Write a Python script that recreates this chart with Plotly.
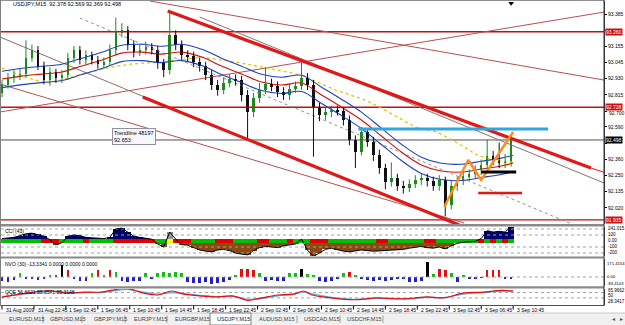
import plotly.graph_objects as go

# ---------------- data ----------------
title_text = "USDJPY,M15  92.378 92.569 92.369 92.498"

candle_bars = list(range(0, 256, 3))          # M15 bar index of each (3-bar) candle
first_open = 92.83
closes = [92.885, 92.934, 92.955, 92.962, 93.075, 93.131, 93.019, 92.920, 92.977, 92.934,
          92.955, 93.075, 93.131, 93.061, 93.096, 93.061, 93.033, 93.047, 93.131, 93.258,
          93.272, 93.167, 93.117, 93.131, 93.153, 93.131, 93.040, 92.991, 93.237, 93.167,
          93.096, 93.089, 93.047, 93.019, 92.955, 92.885, 92.850, 92.899, 92.927, 92.920,
          92.815, 92.695, 92.793, 92.850, 92.892, 92.878, 92.836, 92.815, 92.857, 92.878,
          92.934, 92.885, 92.723, 92.674, 92.695, 92.709, 92.702, 92.639, 92.498, 92.413,
          92.554, 92.484, 92.392, 92.300, 92.202, 92.230, 92.174, 92.160, 92.188, 92.216,
          92.230, 92.209, 92.174, 92.216, 92.040, 92.174, 92.209, 92.244, 92.258, 92.286,
          92.322, 92.385, 92.357, 92.336, 92.350, 92.498]
highs = [92.92, 92.97, 92.99, 93.00, 93.20, 93.17, 93.16, 93.05, 93.01, 93.00,
         92.99, 93.11, 93.16, 93.16, 93.13, 93.12, 93.09, 93.08, 93.17, 93.36,
         93.32, 93.30, 93.20, 93.17, 93.19, 93.18, 93.16, 93.07, 93.40, 93.27,
         93.20, 93.13, 93.12, 93.08, 93.05, 92.99, 92.92, 92.94, 92.96, 92.96,
         92.95, 92.85, 92.83, 92.90, 93.01, 92.93, 92.91, 92.87, 92.89, 92.91,
         93.04, 92.97, 92.92, 92.76, 92.73, 92.74, 92.74, 92.73, 92.67, 92.53,
         92.59, 92.58, 92.52, 92.43, 92.33, 92.34, 92.26, 92.21, 92.22, 92.25,
         92.26, 92.26, 92.24, 92.25, 92.24, 92.21, 92.24, 92.28, 92.29, 92.32,
         92.36, 92.50, 92.42, 92.48, 92.40, 92.53]
lows = [92.80, 92.86, 92.90, 92.92, 92.94, 93.05, 92.99, 92.89, 92.88, 92.90,
        92.90, 92.92, 93.04, 93.03, 93.03, 93.03, 93.00, 93.00, 93.02, 93.10,
        93.22, 93.13, 93.08, 93.09, 93.10, 93.10, 93.00, 92.94, 92.96, 93.13,
        93.06, 93.05, 93.01, 92.98, 92.92, 92.85, 92.81, 92.82, 92.87, 92.88,
        92.77, 92.50, 92.66, 92.76, 92.82, 92.84, 92.80, 92.78, 92.78, 92.83,
        92.85, 92.85, 92.38, 92.63, 92.64, 92.66, 92.67, 92.60, 92.46, 92.30,
        92.39, 92.45, 92.35, 92.26, 92.15, 92.17, 92.14, 92.12, 92.13, 92.16,
        92.18, 92.17, 92.14, 92.14, 91.96, 92.01, 92.14, 92.18, 92.21, 92.23,
        92.25, 92.29, 92.32, 92.30, 92.30, 92.31]

ma_bars = [0, 10, 20, 30, 40, 50, 60, 70, 80, 90, 100, 110, 120, 130, 140,
           150, 160, 170, 180, 190, 200, 210, 220, 230, 240, 250, 256]
ma_mid = [92.927, 92.948, 92.962, 92.977, 93.019, 93.061, 93.110, 93.117, 93.103, 93.117,
          93.082, 93.019, 92.962, 92.906, 92.885, 92.899, 92.815, 92.730, 92.639, 92.526,
          92.413, 92.322, 92.279, 92.272, 92.293, 92.315, 92.336]
ma_upper = [92.982, 93.003, 93.017, 93.032, 93.074, 93.116, 93.165, 93.172, 93.158, 93.172,
            93.137, 93.074, 93.017, 92.961, 92.940, 92.954, 92.870, 92.785, 92.694, 92.581,
            92.468, 92.377, 92.334, 92.327, 92.348, 92.370, 92.391]
ma_lower = [92.867, 92.888, 92.902, 92.917, 92.959, 93.001, 93.050, 93.057, 93.043, 93.057,
            93.022, 92.959, 92.902, 92.846, 92.825, 92.839, 92.755, 92.670, 92.579, 92.466,
            92.353, 92.262, 92.219, 92.212, 92.233, 92.255, 92.276]
ma_long_bars = [0, 10, 22, 30, 40, 55, 65, 80, 100, 117, 133, 150, 167, 182, 189,
                207, 218, 228, 238, 246, 256]
ma_long = [93.005, 92.948, 92.899, 92.920, 92.962, 93.012, 93.033, 93.047, 93.082, 93.047,
           93.005, 92.955, 92.850, 92.779, 92.730, 92.589, 92.554, 92.477, 92.392, 92.357, 92.336]

# trend lines: (bar0, price0, bar1, price1)
channel_top = [(83, 93.406, 295, 92.300), (295, 92.300, 301.5, 92.270)]
channel_bottom = [(70.5, 92.800, 229, 91.899)]
thin_red_lines = [(74, 93.477, 301.5, 92.920), (-1, 92.695, 301.5, 93.399), (-1, 92.892, 231.5, 91.913)]
thin_gray_lines = [(99, 93.364, 301.5, 92.195), (-1, 93.223, 71.5, 92.800)]
dotted_lines = [(39, 93.357, 286.5, 91.899)]
cyan_level = (178.5, 273.5, 92.575)
zigzag_bars = [221.5, 233.5, 240, 256]
zigzag_prices = [92.026, 92.357, 92.216, 92.554]
black_level = (240, 257.5, 92.272)
red_short_level = (238.5, 260.5, 92.124)

h_levels = [93.260, 92.728, 91.935]
h_labels = ["93.260", "92.728", "91.935"]
bid_price = 92.498

price_ticks = [93.385, 93.270, 93.155, 93.045, 92.930, 92.815, 92.700, 92.590,
               92.475, 92.360, 92.250, 92.135, 92.020, 91.905]
hidden_price_ticks = [93.270, 92.475, 91.905]   # covered by the level labels
shifted_price_tick = 92.700                     # partly under the 92.728 label, drawn a little lower

time_tick_bars = [0, 16, 32, 48, 64, 80, 96, 112, 128, 144, 160, 176, 192, 208, 224, 240, 256]
time_tick_labels = ["31 Aug 2009", "31 Aug 22:45", "1 Sep 02:45", "1 Sep 06:45", "1 Sep 10:45",
                    "1 Sep 14:45", "1 Sep 18:45", "1 Sep 22:45", "2 Sep 02:45", "2 Sep 06:45",
                    "2 Sep 10:45", "2 Sep 14:45", "2 Sep 18:45", "2 Sep 22:45", "3 Sep 02:45",
                    "3 Sep 06:45", "3 Sep 10:45"]

cci = [40, 50, 60, 90, 120, 130, 110, 80, 20, -60,
       -30, 80, 100, 90, 60, 50, 50, 40, 60, 200,
       215, 150, 80, 60, 50, 30, -50, -100, 150, 30,
       -60, -70, -110, -150, -170, -180, -150, -140, -160, -200,
       -220, -230, -160, -110, -90, -100, -110, -80, -60, -50,
       30, -150, -255, -200, -140, -120, -150, -170, -180, -170,
       -150, -160, -170, -165, -160, -150, -145, -140, -120, -100,
       -90, -110, -120, -100, -130, -80, -40, -20, -10, -5,
       40, 170, 150, 160, 150, 240]
cci_strip = ("ggggggg" + "rrr" + "gggg" + "r" + "gggg" + "rrrrrrr" + "gg" + "y" + "rrr" + "gggg"
             + "rrr" + "gggg" + "rr" + "ggg" + "r" + "ggg" + "rrr" + "gggggggg" + "rr" + "gggggg"
             + "rr" + "ggggggg" + "rgrgrg")
cci_level_lines = [200, 100, -100, -200]
cci_labels = [(212, "241.015"), (100, "100"), (0, "0.00"), (-100, "-100"), (-185, "-200"), (-262, "-257.861")]

nvo = [-45, -55, -40, 50, -30, -25, -40, -20, 20, 30,
       145, 85, -20, -50, -45, 55, 85, 30, 80, 60,
       -50, -55, -50, -45, 55, -20, 50, 65, 45, 60,
       55, -60, -70, -75, -60, -80, -70, -60, -40, 30,
       100, 100, 85, 50, -45, -40, -50, -45, 50, 45,
       95, 40, 30, -50, -55, -45, -30, 50, 65, 20,
       -20, -35, -45, -40, -50, -35, -30, -20, -55, -60,
       -45, 180, 40, 100, 90, 50, -60, 30, -15, -20,
       -10, 85, 85, 80, -20, -15]
nvo_kind = ("bbb" + "g" + "bbbb" + "g" + "r" + "k" + "r" + "bbb" + "grgrg" + "bbbb" + "g" + "b"
            + "ggggg" + "bbbbbbbb" + "g" + "rrr" + "g" + "bbbb" + "gg" + "k" + "gg" + "bbbb"
            + "grg" + "bbbbbbbbbbb" + "k" + "g" + "rr" + "g" + "b" + "g" + "bbb" + "rrr" + "bb")
nvo_labels = [(165, "171.4154"), (10, "0.00"), (-83.4, "-83.4143")]

qqe_bars = [0, 16, 25, 33, 41, 50, 58, 63, 71, 78, 85, 91, 100, 108, 116, 123,
            130, 138, 146, 151, 155, 165, 176, 188, 198, 205, 213, 221, 231, 241, 250, 256]
qqe_fast = [43, 62, 66, 58, 62, 62, 73, 75, 58, 51, 66, 54, 47, 44, 47, 31,
            40, 51, 54, 66, 52, 40, 33, 40, 36, 38, 44, 40, 58, 62, 68, 66]
qqe_slow = [45, 58, 64, 61, 60, 61, 68, 72, 62, 54, 60, 56, 49, 45, 46, 35,
            38, 48, 53, 62, 55, 42, 35, 38, 37, 37, 42, 41, 54, 60, 65, 65]
qqe_labels = [(68.5, "65.9662"), (50, "50"), (28.34, "28.3417")]
qqe_levels = [60, 40]

tabs = ["EURUSD,M15", "GBPUSD,M15", "GBPJPY,M15", "EURJPY,M15", "EURGBP,M15",
        "USDJPY,M15", "AUDUSD,M15", "USDCAD,M15", "USDCHF,M15"]
active_tab = "USDJPY,M15"

# ---------------- layout helpers ----------------
W, H = 625, 325
FONT = "Liberation Sans"
def yp(p):
    return 1 - p / H
def xp(p):
    return p / W

XDOM = [xp(1), xp(604)]
XR = [-0.5, 301.5]

fig = go.Figure()

def seg_trace(segs, color, width, dash="solid", xa="x", ya="y"):
    xs, ys = [], []
    for b0, p0, b1, p1 in segs:
        xs += [b0, b1, None]
        ys += [p0, p1, None]
    fig.add_trace(go.Scatter(x=xs, y=ys, mode="lines", xaxis=xa, yaxis=ya,
                             line=dict(color=color, width=width, dash=dash),
                             hoverinfo="skip", showlegend=False))

# ---- main panel ----
opens = [first_open] + closes[:-1]
seg_trace([(XR[0], v, XR[1], v) for v in h_levels], "#c01010", 1.4)
seg_trace([(XR[0], bid_price, XR[1], bid_price)], "#505050", 1)
seg_trace(thin_red_lines, "#b85050", 1)
seg_trace(thin_gray_lines, "#8a7070", 1)
seg_trace(dotted_lines, "#909090", 1, "dot")
fig.add_trace(go.Scatter(x=ma_long_bars, y=ma_long, mode="lines", line=dict(color="#e0c800", width=1.3, dash="dot"),
                         hoverinfo="skip", showlegend=False))
fig.add_trace(go.Scatter(x=ma_bars, y=ma_upper, mode="lines", line=dict(color="#2040c0", width=1.1, shape="spline"),
                         hoverinfo="skip", showlegend=False))
fig.add_trace(go.Scatter(x=ma_bars, y=ma_lower, mode="lines", line=dict(color="#2040c0", width=1.1, shape="spline"),
                         hoverinfo="skip", showlegend=False))
fig.add_trace(go.Scatter(x=ma_bars, y=ma_mid, mode="lines", line=dict(color="#d01010", width=1.1, shape="spline"),
                         hoverinfo="skip", showlegend=False))

for up, col in ((True, "#1f8a1f"), (False, "#101010")):
    wx, wy, bx, bb, bh = [], [], [], [], []
    for b, o, h, l, c in zip(candle_bars, opens, highs, lows, closes):
        if (c >= o) != up:
            continue
        wx += [b, b, None]
        wy += [l, h, None]
        bx.append(b)
        bb.append(min(o, c))
        bh.append(max(abs(c - o), 0.004))
    fig.add_trace(go.Scatter(x=wx, y=wy, mode="lines", line=dict(color=col, width=1),
                             hoverinfo="skip", showlegend=False))
    fig.add_trace(go.Bar(x=bx, y=bh, base=bb, width=1.25, marker=dict(color=col, line=dict(width=0)),
                         hoverinfo="skip", showlegend=False))

seg_trace(channel_bottom, "#e01818", 3.2)
seg_trace(channel_top[:1], "#e01818", 3.2)
seg_trace(channel_top[1:], "#e01818", 1)
seg_trace([(cyan_level[0], cyan_level[2], cyan_level[1], cyan_level[2])], "#30a8dc", 3)
fig.add_trace(go.Scatter(x=zigzag_bars, y=zigzag_prices, mode="lines", line=dict(color="#ff8c1a", width=2.4),
                         hoverinfo="skip", showlegend=False))
seg_trace([(black_level[0], black_level[2], black_level[1], black_level[2])], "#000000", 3)
seg_trace([(red_short_level[0], red_short_level[2], red_short_level[1], red_short_level[2])], "#e01818", 2.5)
fig.add_trace(go.Scatter(x=[candle_bars[-1]], y=[93.462], mode="markers",
                         marker=dict(symbol="triangle-down", size=5, color="black"),
                         hoverinfo="skip", showlegend=False))

# ---- CCI panel ----
cci_col = {"g": "#00c000", "r": "#e00000", "y": "#ffff00"}
hist_cols = []
for v, s in zip(cci, cci_strip):
    if s == "y":
        hist_cols.append("#909090")
    elif v >= 0:
        hist_cols.append("#00006e")
    else:
        hist_cols.append("#8b4a14")
for lv in cci_level_lines:
    seg_trace([(XR[0], lv, XR[1], lv)], "#a0a0a0", 1, "dot", "x2", "y2")
fig.add_trace(go.Bar(x=candle_bars, y=cci, width=3, xaxis="x2", yaxis="y2",
                     marker=dict(color=hist_cols, line=dict(width=0)), hoverinfo="skip", showlegend=False))
fig.add_trace(go.Bar(x=candle_bars, y=[70] * len(candle_bars), base=-40, width=3, xaxis="x2", yaxis="y2",
                     marker=dict(color=[cci_col[s] for s in cci_strip], line=dict(width=0)),
                     hoverinfo="skip", showlegend=False))
fig.add_trace(go.Scatter(x=candle_bars, y=cci, mode="lines", xaxis="x2", yaxis="y2",
                         line=dict(color="#000000", width=1), hoverinfo="skip", showlegend=False))

# ---- NVO panel ----
nvo_col = {"b": "#2020d0", "g": "#10c010", "r": "#e01010", "k": "#000000"}
seg_trace([(XR[0], 0, XR[1], 0)], "#a0a0a0", 1, "dot", "x3", "y3")
fig.add_trace(go.Bar(x=candle_bars, y=nvo, width=1.3, xaxis="x3", yaxis="y3",
                     marker=dict(color=[nvo_col[k] for k in nvo_kind], line=dict(width=0)),
                     hoverinfo="skip", showlegend=False))

# ---- QQE panel ----
for lv in qqe_levels:
    seg_trace([(XR[0], lv, XR[1], lv)], "#a0a0a0", 1, "dot", "x4", "y4")
fig.add_trace(go.Scatter(x=qqe_bars, y=qqe_slow, mode="lines", xaxis="x4", yaxis="y4",
                         line=dict(color="#60a8e8", width=1.2, shape="spline"), hoverinfo="skip", showlegend=False))
fig.add_trace(go.Scatter(x=qqe_bars, y=qqe_fast, mode="lines", xaxis="x4", yaxis="y4",
                         line=dict(color="#e01010", width=1.2, shape="spline"), hoverinfo="skip", showlegend=False))

# ---------------- axes ----------------
hidden_x = dict(domain=XDOM, range=XR, showticklabels=False, showgrid=False, zeroline=False,
                showline=False, ticks="", fixedrange=True)
tickfont = dict(family=FONT, size=5, color="#000000")
def yax(dom, rng, **kw):
    d = dict(domain=[yp(dom[0]), yp(dom[1])], range=rng, side="right", showgrid=False, zeroline=False,
             showline=True, linecolor="#404040", linewidth=1, fixedrange=True, showticklabels=False, ticks="")
    d.update(kw)
    return d

fig.update_layout(
    width=W, height=H, margin=dict(l=0, r=0, t=0, b=0),
    paper_bgcolor="white", plot_bgcolor="white",
    barmode="overlay", bargap=0, showlegend=False,
    font=dict(family=FONT, size=5, color="black"),
    xaxis=dict(hidden_x, anchor="y"),
    xaxis2=dict(hidden_x, anchor="y2", matches="x"),
    xaxis3=dict(hidden_x, anchor="y3", matches="x"),
    xaxis4=dict(hidden_x, anchor="y4", matches="x"),
    yaxis=yax((224, 1), [91.906, 93.477], anchor="x", tickvals=price_ticks,
              ticktext=["" if (v in hidden_price_ticks or v == shifted_price_tick) else "%.3f" % v
                        for v in price_ticks],
              showticklabels=True, ticks="outside", ticklen=2, tickcolor="#000000", tickfont=tickfont),
    yaxis2=yax((256, 227), [-250, 233], anchor="x2"),
    yaxis3=yax((286, 259), [-110, 220], anchor="x3"),
    yaxis4=yax((305, 289), [13.3, 73.5], anchor="x4"),
)

shapes = []
def prect(x0, y0, x1, y1, fill, line=None, lw=0):
    shapes.append(dict(type="rect", xref="paper", yref="paper", x0=xp(x0), x1=xp(x1), y0=yp(y1), y1=yp(y0),
                       fillcolor=fill, line=dict(color=line or fill, width=lw), layer="above"))
def pline(x0, y0, x1, y1, color, w=1):
    shapes.append(dict(type="line", xref="paper", yref="paper", x0=xp(x0), x1=xp(x1), y0=yp(y0), y1=yp(y1),
                       line=dict(color=color, width=w), layer="above"))

pline(0, 0.5, 604, 0.5, "#909090", 1)
prect(0, 224, 604, 226.6, "#8a8a8a")
prect(0, 256.4, 604, 258.6, "#8a8a8a")
prect(0, 286.2, 604, 288.4, "#8a8a8a")
pline(0, 305.5, 604, 305.5, "#505050", 1)
pline(0.5, 0, 0.5, 306, "#808080", 1)
pline(604, 0, 604, 306, "#303030", 1)
prect(0, 313, 625, 325, "#f0f0f0")
pline(0, 313, 625, 313, "#c8c8c8", 1)
tab_x = [7, 48, 92, 132, 173, 215, 257, 302, 345]
tab_sep = [43, 82, 125, 167, 297, 340, 383]
prect(210, 313, 251, 325, "#ffffff", "#808080", 1)
for sx in tab_sep:
    pline(sx, 315.5, sx, 323, "#a0a0a0", 1)
for b in time_tick_bars:
    shapes.append(dict(type="line", xref="x4", yref="paper", x0=b, x1=b, y0=yp(306), y1=yp(309.5),
                       line=dict(color="#000000", width=1)))
fig.update_layout(shapes=shapes)

ann = []
def txt(x, y, s, xref="paper", yref="paper", anchor="left", color="black", size=5, **kw):
    d = dict(x=x, y=y, xref=xref, yref=yref, text=s, showarrow=False, xanchor=anchor, yanchor="middle",
             font=dict(family=FONT, size=size, color=color))
    d.update(kw)
    ann.append(d)

txt(xp(11), yp(4.5), title_text, size=5.5)
txt(xp(606.5), yp(113.2), "%.3f" % shifted_price_tick)
for v, s in zip(h_levels, h_labels):
    txt(xp(604.5), v, s, yref="y", color="white", bgcolor="#d01010", borderpad=0)
txt(xp(604.5), bid_price, "%.3f" % bid_price, yref="y", color="white", bgcolor="#000000", borderpad=0)
txt(xp(112), yp(136.5), "Trendline 48197<br>92.653", bgcolor="#f8f8fa", bordercolor="#9090a0",
    borderwidth=1, borderpad=1, align="left", size=5.5)
txt(xp(3), yp(230.5), "CCI (43)")
txt(xp(3), yp(263.5), "NVO (30) -13.3341 0.0000 0.0000 0.0000")
txt(xp(3), yp(291.5), "QQE 56.6621 55.3571 55.3148")
for v, s in cci_labels:
    txt(xp(605.5), v, s, yref="y2", size=4.5)
for v, s in nvo_labels:
    txt(xp(605), v, s, yref="y3", size=4.2)
for v, s in qqe_labels:
    txt(xp(605.5), v, s, yref="y4", size=4.5)
for b, s in zip(time_tick_bars, time_tick_labels):
    txt(b + 0.8, yp(310), s, xref="x4")
for x0, s in zip(tab_x, tabs):
    txt(xp(x0), yp(319), s, color="#202020" if s == active_tab else "#404040", size=5.5)
txt(xp(610), yp(319), "\u25c2", color="#505050", size=6)
txt(xp(618), yp(319), "\u25b8", color="#505050", size=6)
fig.update_layout(annotations=ann)

fig.write_html("out.html")
